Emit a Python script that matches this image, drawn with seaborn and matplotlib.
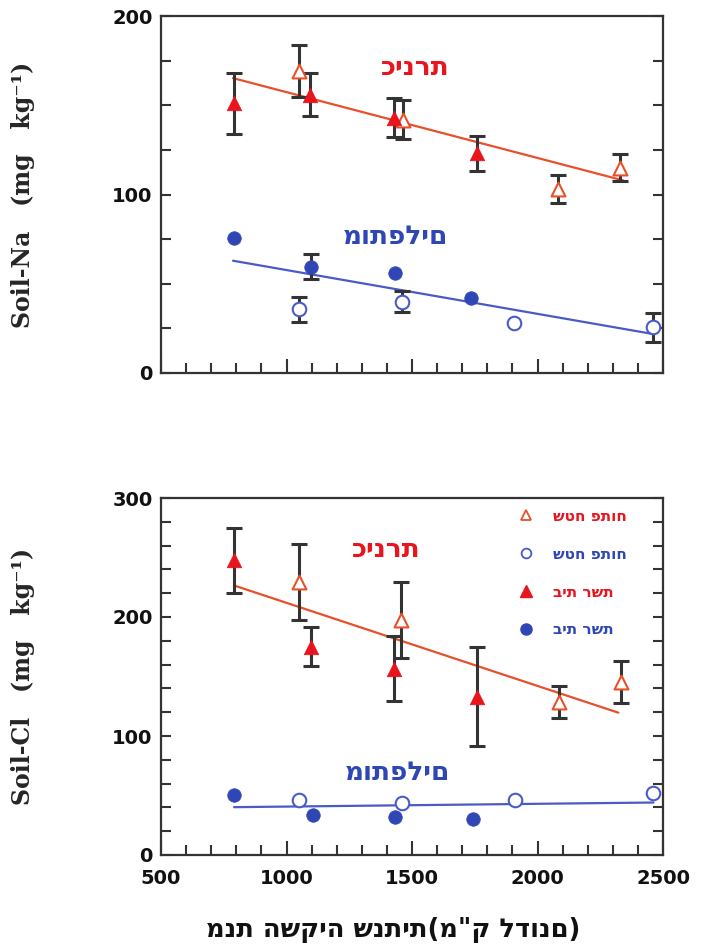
import numpy as np
import pandas as pd
import matplotlib
matplotlib.use("Agg")
import matplotlib.pyplot as plt
from matplotlib.ticker import MultipleLocator
from matplotlib.lines import Line2D
import seaborn as sns

# ---------------- data ----------------
# Soil-Na panel
na_kin_net_x = [790, 1095, 1430, 1760]
na_kin_net_y = [151, 156, 143, 123]
na_kin_net_e = [17, 12, 11, 10]
na_kin_open_x = [1048, 1463, 2080, 2328]
na_kin_open_y = [169, 142, 103, 115]
na_kin_open_e = [14.5, 11, 8, 7.5]
na_des_net_x = [790, 1098, 1432, 1736]
na_des_net_y = [75.7, 59.5, 55.8, 41.9]
na_des_net_e = [0, 7, 0, 0]
na_des_open_x = [1048, 1461, 1907, 2462]
na_des_open_y = [35.7, 40, 27.9, 25.5]
na_des_open_e = [7, 6, 0, 8]
na_kin_fit_x = [787, 2341]
na_kin_fit_y = [165.2, 107.9]
na_des_fit_x = [787, 2462]
na_des_fit_y = [62.9, 21.8]

# Soil-Cl panel
cl_kin_net_x = [791, 1096, 1428, 1757]
cl_kin_net_y = [247.5, 175, 156.7, 133]
cl_kin_net_e = [27.6, 16.5, 27, 41.5]
cl_kin_open_x = [1048, 1458, 2085, 2331]
cl_kin_open_y = [229.3, 197.2, 128.8, 145.5]
cl_kin_open_e = [32, 32, 13.5, 17.5]
cl_des_net_x = [791, 1104, 1431, 1742]
cl_des_net_y = [50.6, 33.8, 31.8, 30.2]
cl_des_net_e = [0, 0, 0, 0]
cl_des_open_x = [1048, 1461, 1911, 2462]
cl_des_open_y = [45.8, 44.1, 45.8, 52]
cl_des_open_e = [0, 0, 0, 0]
cl_kin_fit_x = [791, 2322]
cl_kin_fit_y = [226.5, 119.6]
cl_des_fit_x = [791, 2462]
cl_des_fit_y = [40.2, 44.1]

# texts
txt_kin = "כינרת"
txt_des = "מותפלים"
txt_open = "שטח פתוח"
txt_net = "בית רשת"
txt_xlabel = 'מנת השקיה שנתית(מ"ק לדונם)'
ylab_na = "Soil-Na   (mg   kg⁻¹)"
ylab_cl = "Soil-Cl   (mg   kg⁻¹)"

# ---------------- style ----------------
sns.set_theme(style="ticks")
plt.rcParams["font.family"] = ["DejaVu Sans"]

RED = "#e8141e"
ORANGE = "#e8502a"
BLUE = "#2f47b5"
BLUE_L = "#4a5bc8"
EB = "#333333"
HEB = ["DejaVu Sans"]

fig = plt.figure(figsize=(7.03, 9.48), dpi=100)
ax1 = fig.add_axes([161 / 703, 1 - 373 / 948, 502 / 703, 357 / 948])
ax2 = fig.add_axes([161 / 703, 1 - 855 / 948, 502 / 703, 357 / 948])


def draw_panel(ax, kn, ko, dn, do, kfit, dfit):
    for (x, y, e) in (kn, ko, dn, do):
        x = np.asarray(x, float); y = np.asarray(y, float); e = np.asarray(e, float)
        m = e > 0
        if m.any():
            ax.errorbar(x[m], y[m], yerr=e[m], fmt="none", ecolor=EB,
                        elinewidth=2.2, capsize=5.5, capthick=2.2, zorder=2)
    sns.lineplot(x=kfit[0], y=kfit[1], ax=ax, color=ORANGE, lw=1.6, zorder=1)
    sns.lineplot(x=dfit[0], y=dfit[1], ax=ax, color=BLUE_L, lw=1.6, zorder=1)
    sns.scatterplot(x=ko[0], y=ko[1], ax=ax, marker="^", s=100,
                    facecolor="white", edgecolor=ORANGE, linewidth=1.5, zorder=3)
    sns.scatterplot(x=do[0], y=do[1], ax=ax, marker="o", s=95,
                    facecolor="white", edgecolor=BLUE_L, linewidth=1.5, zorder=3)
    sns.scatterplot(x=kn[0], y=kn[1], ax=ax, marker="^", s=110,
                    color=RED, edgecolor=RED, linewidth=0.5, zorder=3)
    sns.scatterplot(x=dn[0], y=dn[1], ax=ax, marker="o", s=95,
                    color=BLUE, edgecolor=BLUE, linewidth=0.5, zorder=3)


def style_axes(ax, ymax, ymajor, yminor, show_x):
    ax.set_xlim(500, 2500)
    ax.set_ylim(0, ymax)
    ax.xaxis.set_major_locator(MultipleLocator(500))
    ax.xaxis.set_minor_locator(MultipleLocator(100))
    ax.yaxis.set_major_locator(MultipleLocator(ymajor))
    ax.yaxis.set_minor_locator(MultipleLocator(yminor))
    ax.tick_params(axis="both", which="both", direction="in", color="#333333", width=1.5)
    ax.tick_params(axis="y", which="both", left=True, right=True, length=7)
    ax.tick_params(axis="x", which="both", bottom=True, top=False)
    ax.tick_params(axis="x", which="major", length=10)
    ax.tick_params(axis="x", which="minor", length=7)
    ax.tick_params(axis="y", labelsize=14, pad=6)
    ax.tick_params(axis="x", labelsize=14, pad=10)
    for lab in ax.get_yticklabels() + ax.get_xticklabels():
        lab.set_fontweight("bold")
        lab.set_color("#111111")
    if not show_x:
        ax.set_xticklabels([])
    for sp in ax.spines.values():
        sp.set_visible(True)
        sp.set_linewidth(1.6)
        sp.set_color("#333333")
    ax.set_xlabel("")
    legend = ax.get_legend()
    if legend is not None:
        legend.remove()


# ---- top panel ----
draw_panel(ax1,
           (na_kin_net_x, na_kin_net_y, na_kin_net_e),
           (na_kin_open_x, na_kin_open_y, na_kin_open_e),
           (na_des_net_x, na_des_net_y, na_des_net_e),
           (na_des_open_x, na_des_open_y, na_des_open_e),
           (na_kin_fit_x, na_kin_fit_y), (na_des_fit_x, na_des_fit_y))
style_axes(ax1, 200, 100, 25, False)
ax1.text(1514, 171, txt_kin, color=RED, fontsize=19, fontweight="bold",
         ha="center", va="center", family=HEB)
ax1.text(1434, 76, txt_des, color=BLUE, fontsize=19, fontweight="bold",
         ha="center", va="center", family=HEB)
ax1.set_ylabel(ylab_na, fontsize=17, fontweight="bold", family="DejaVu Serif")
ax1.yaxis.set_label_coords(-0.25, 0.5)

# ---- bottom panel ----
draw_panel(ax2,
           (cl_kin_net_x, cl_kin_net_y, cl_kin_net_e),
           (cl_kin_open_x, cl_kin_open_y, cl_kin_open_e),
           (cl_des_net_x, cl_des_net_y, cl_des_net_e),
           (cl_des_open_x, cl_des_open_y, cl_des_open_e),
           (cl_kin_fit_x, cl_kin_fit_y), (cl_des_fit_x, cl_des_fit_y))
style_axes(ax2, 300, 100, 20, True)
ax2.text(1398, 256, txt_kin, color=RED, fontsize=19, fontweight="bold",
         ha="center", va="center", family=HEB)
ax2.text(1443, 69, txt_des, color=BLUE, fontsize=19, fontweight="bold",
         ha="center", va="center", family=HEB)
ax2.set_ylabel(ylab_cl, fontsize=17, fontweight="bold", family="DejaVu Serif")
ax2.yaxis.set_label_coords(-0.25, 0.5)

# legend
handles = [
    Line2D([], [], ls="none", marker="^", ms=7, mfc="white", mec=ORANGE, mew=1.3),
    Line2D([], [], ls="none", marker="o", ms=7, mfc="white", mec=BLUE_L, mew=1.3),
    Line2D([], [], ls="none", marker="^", ms=8, mfc=RED, mec=RED),
    Line2D([], [], ls="none", marker="o", ms=8, mfc=BLUE, mec=BLUE),
]
labels = [txt_open, txt_open, txt_net, txt_net]
ax2.legend(handles, labels, loc="upper left", bbox_to_anchor=(0.69, 1.0),
           frameon=False, labelspacing=1.5, handletextpad=1.3,
           handlelength=1.0, borderaxespad=0.3,
           prop={"family": HEB, "weight": "bold", "size": 11},
           labelcolor=[RED, BLUE, RED, BLUE])

fig.text(393 / 703, 1 - 930 / 948, txt_xlabel, fontsize=18.5, fontweight="bold",
         ha="center", va="center", family=HEB, color="#111111")

fig.savefig("out.png", dpi=100)
